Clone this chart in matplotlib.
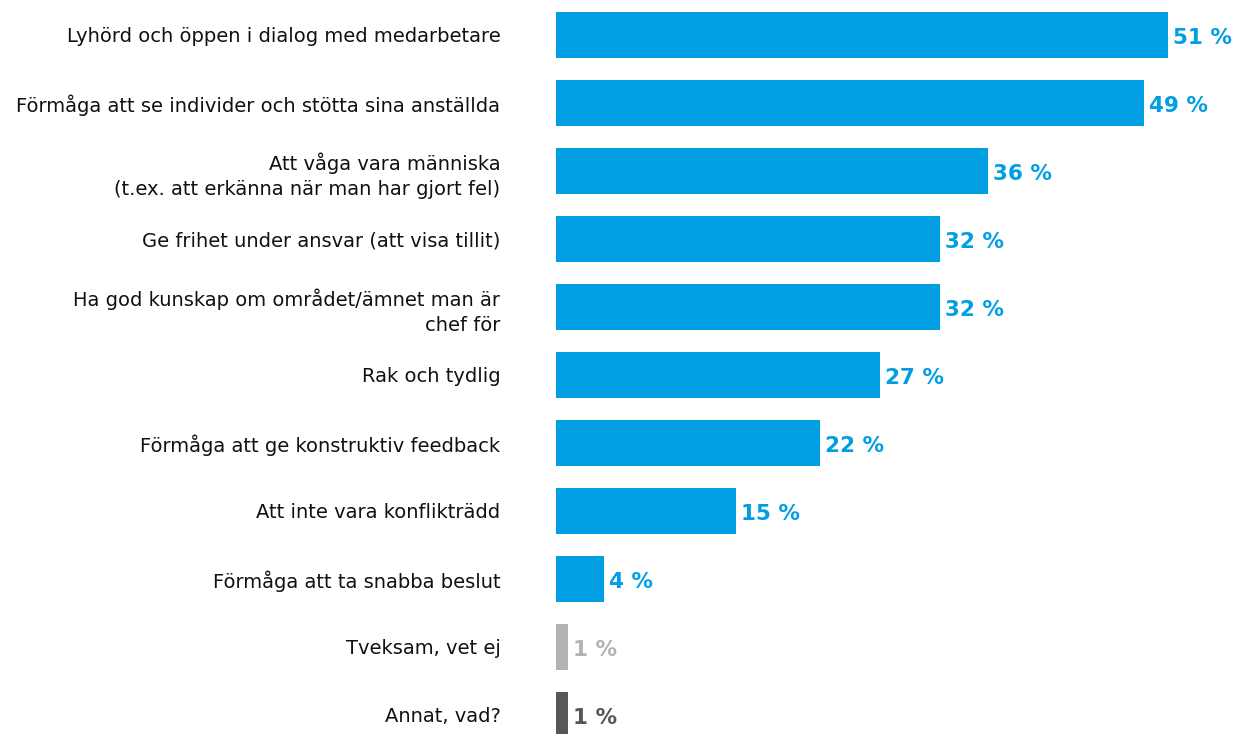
import matplotlib.pyplot as plt

labels = [
    "Lyhörd och öppen i dialog med medarbetare",
    "Förmåga att se individer och stötta sina anställda",
    "Att våga vara människa\n(t.ex. att erkänna när man har gjort fel)",
    "Ge frihet under ansvar (att visa tillit)",
    "Ha god kunskap om området/ämnet man är\nchef för",
    "Rak och tydlig",
    "Förmåga att ge konstruktiv feedback",
    "Att inte vara konflikträdd",
    "Förmåga att ta snabba beslut",
    "Tveksam, vet ej",
    "Annat, vad?",
]
values = [51, 49, 36, 32, 32, 27, 22, 15, 4, 1, 1]
colors = ["#009FE3"] * 9 + ["#B1B3B6", "#575757"]

fig = plt.figure(figsize=(12.46, 7.34), dpi=100)
ax = fig.add_axes([556 / 1246, 0, 690 / 1246, 1])

pos = list(range(len(values)))
ax.barh(pos, values, height=46 / 68, color=colors)

for p, v, c in zip(pos, values, colors):
    ax.annotate(f"{v} %", (v, p), xytext=(3.5, -2), textcoords="offset points",
                ha="left", va="center", fontsize=15.5, fontweight="bold", color=c)

ax.set_xlim(0, 690 / 12)
ax.set_ylim((734 - 35) / 68, -35 / 68)
ax.set_yticks(pos)
ax.set_yticklabels(labels, fontsize=14, color="#111111", linespacing=1.4)
ax.tick_params(axis="y", length=0, pad=40)
ax.set_xticks([])
for s in ax.spines.values():
    s.set_visible(False)

fig.savefig("out.png", dpi=100)
